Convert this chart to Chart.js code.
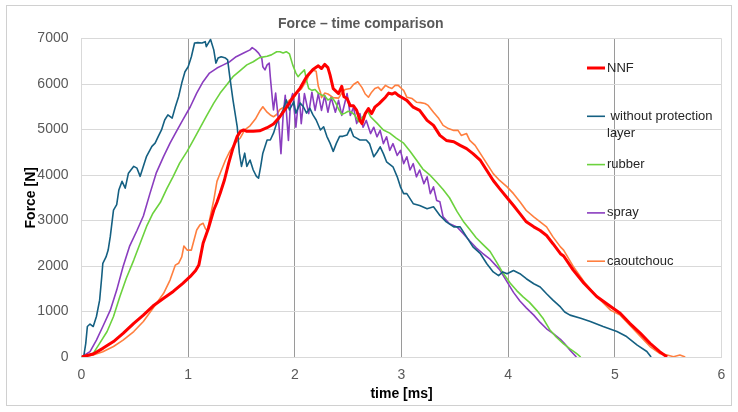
<!DOCTYPE html>
<html>
<head>
<meta charset="utf-8">
<script src="https://cdn.jsdelivr.net/npm/chart.js@4.4.1/dist/chart.umd.min.js"></script>
<style>
html, body { margin: 0; padding: 0; background: #fff; }
#wrap { width: 738px; height: 412px; }
</style>
</head>
<body>
<div id="wrap"><canvas id="forceChart" width="738" height="412"></canvas></div>
<script>
// axis ticks
const timeTicks = [0, 1, 2, 3, 4, 5, 6]
const forceTicks = [0, 1000, 2000, 3000, 4000, 5000, 6000, 7000]

// NNF
const nnfT = [0, 0.11, 0.20, 0.30, 0.39, 0.49, 0.58, 0.67, 0.77, 0.86,
  0.95, 1.02, 1.07, 1.10, 1.14, 1.19, 1.24, 1.27, 1.30, 1.34,
  1.38, 1.42, 1.46, 1.49, 1.52, 1.55, 1.61, 1.67, 1.74, 1.80,
  1.86, 1.92, 1.99, 2.05, 2.11, 2.17, 2.22, 2.25, 2.28, 2.31,
  2.33, 2.36, 2.41, 2.44, 2.46, 2.49, 2.52, 2.55, 2.58, 2.61,
  2.63, 2.66, 2.69, 2.72, 2.75, 2.79, 2.82, 2.85, 2.88, 2.91,
  2.94, 2.97, 3.00, 3.05, 3.11, 3.17, 3.24, 3.30, 3.36, 3.42,
  3.49, 3.55, 3.61, 3.67, 3.74, 3.80, 3.86, 3.92, 3.99, 4.05,
  4.11, 4.17, 4.24, 4.30, 4.36, 4.42, 4.49, 4.52, 4.61, 4.71,
  4.83, 4.96, 5.05, 5.14, 5.24, 5.33, 5.42, 5.49]
const nnfF = [0, 66, 190, 340, 520, 740, 920, 1120, 1290, 1440,
  1620, 1770, 1900, 2020, 2500, 2830, 3230, 3400, 3600, 3890,
  4260, 4590, 4850, 4960, 4990, 4960, 4960, 4970, 5040, 5120,
  5280, 5480, 5730, 5910, 6160, 6320, 6400, 6340, 6430, 6360,
  6200, 5900, 5790, 5950, 5720, 5680, 5520, 5520, 5420, 5200,
  5130, 5350, 5460, 5350, 5490, 5570, 5640, 5710, 5800, 5780,
  5810, 5750, 5710, 5640, 5490, 5420, 5200, 5090, 4870, 4760,
  4730, 4650, 4580, 4470, 4320, 4100, 3880, 3700, 3500, 3330,
  3150, 2970, 2860, 2780, 2670, 2490, 2270, 2220, 1910, 1620,
  1330, 1110, 960, 740, 520, 300, 117, 0]

// without protection layer
const bareT = [0.02, 0.04, 0.055, 0.08, 0.11, 0.14, 0.17, 0.19, 0.20, 0.23,
  0.25, 0.27, 0.30, 0.33, 0.35, 0.38, 0.41, 0.44, 0.49, 0.52,
  0.55, 0.58, 0.61, 0.66, 0.69, 0.72, 0.75, 0.78, 0.81, 0.85,
  0.88, 0.91, 0.94, 0.97, 1.00, 1.03, 1.06, 1.09, 1.13, 1.16,
  1.17, 1.21, 1.24, 1.26, 1.28, 1.31, 1.35, 1.37, 1.39, 1.42,
  1.46, 1.48, 1.50, 1.53, 1.55, 1.58, 1.61, 1.64, 1.66, 1.68,
  1.70, 1.74, 1.77, 1.80, 1.83, 1.86, 1.89, 1.92, 1.95, 1.99,
  2.01, 2.05, 2.08, 2.11, 2.14, 2.17, 2.20, 2.24, 2.27, 2.30,
  2.33, 2.36, 2.39, 2.42, 2.45, 2.49, 2.52, 2.55, 2.58, 2.61,
  2.67, 2.70, 2.74, 2.77, 2.80, 2.83, 2.86, 2.92, 2.96, 2.99,
  3.02, 3.05, 3.11, 3.17, 3.24, 3.30, 3.36, 3.42, 3.49, 3.55,
  3.61, 3.67, 3.74, 3.80, 3.86, 3.91, 3.95, 3.99, 4.05, 4.11,
  4.17, 4.24, 4.30, 4.36, 4.42, 4.49, 4.53, 4.58, 4.68, 4.77,
  4.89, 5.02, 5.11, 5.21, 5.30, 5.34]
const bareF = [0, 300, 670, 725, 670, 890, 1250, 1770, 2060, 2200,
  2350, 2650, 3230, 3350, 3670, 3860, 3710, 4040, 4190, 4150,
  3970, 4190, 4410, 4630, 4700, 4850, 4990, 5210, 5320, 5250,
  5500, 5720, 6020, 6270, 6380, 6600, 6900, 6910, 6900, 6930,
  6820, 6980, 6750, 6460, 6570, 6600, 6570, 6530, 6160, 5650,
  5060, 4480, 4190, 4480, 4190, 4330, 4110, 3970, 3930, 4190,
  4480, 4770, 4770, 4920, 5140, 5290, 5430, 5650, 5430, 5610,
  5360, 5580, 5500, 5360, 5470, 5320, 5210, 4990, 5060, 4850,
  4700, 4520, 4700, 4850, 4850, 4880, 5030, 4850, 4810, 4770,
  4770, 4690, 4400, 4500, 4620, 4470, 4290, 4180, 3960, 3740,
  3590, 3590, 3370, 3330, 3260, 3300, 3110, 2970, 2860, 2860,
  2640, 2420, 2270, 2050, 1870, 1790, 1870, 1830, 1900, 1830,
  1720, 1610, 1540, 1390, 1250, 1100, 990, 920, 850, 780,
  670, 560, 450, 260, 120, 0]

// rubber
const rubberT = [0, 0.11, 0.17, 0.24, 0.30, 0.36, 0.42, 0.49, 0.55, 0.61,
  0.67, 0.74, 0.80, 0.86, 0.92, 0.99, 1.05, 1.11, 1.17, 1.24,
  1.30, 1.36, 1.42, 1.49, 1.55, 1.61, 1.67, 1.74, 1.78, 1.83,
  1.86, 1.89, 1.92, 1.95, 1.98, 2.01, 2.03, 2.06, 2.09, 2.11,
  2.13, 2.16, 2.19, 2.22, 2.25, 2.28, 2.31, 2.35, 2.38, 2.41,
  2.44, 2.47, 2.50, 2.53, 2.56, 2.60, 2.65, 2.68, 2.71, 2.77,
  2.83, 2.89, 2.95, 3.02, 3.08, 3.14, 3.20, 3.27, 3.33, 3.39,
  3.45, 3.52, 3.58, 3.64, 3.70, 3.76, 3.83, 3.89, 3.95, 4.02,
  4.08, 4.14, 4.20, 4.27, 4.33, 4.39, 4.45, 4.52, 4.58, 4.64,
  4.68]
const rubberF = [0, 80, 300, 560, 890, 1330, 1730, 2130, 2500, 2870,
  3160, 3400, 3700, 3970, 4260, 4520, 4770, 5030, 5290, 5580,
  5800, 5980, 6160, 6300, 6420, 6490, 6580, 6610, 6640, 6710,
  6710, 6680, 6710, 6660, 6420, 6240, 6160, 6240, 6310, 6080,
  5900, 5860, 5880, 5800, 5760, 5740, 5650, 5700, 5600, 5450,
  5330, 5360, 5400, 5380, 5320, 5170, 5320, 5420, 5280, 5140,
  4990, 4920, 4810, 4700, 4520, 4330, 4130, 3990, 3840, 3680,
  3500, 3200, 2980, 2800, 2620, 2480, 2320, 2090, 1850, 1620,
  1460, 1320, 1200, 1020, 840, 600, 440, 290, 180, 80,
  0]

// spray
const sprayT = [0, 0.08, 0.14, 0.20, 0.27, 0.33, 0.39, 0.45, 0.52, 0.58,
  0.64, 0.70, 0.77, 0.83, 0.89, 0.95, 1.02, 1.08, 1.14, 1.20,
  1.27, 1.33, 1.39, 1.45, 1.52, 1.58, 1.60, 1.63, 1.66, 1.69,
  1.70, 1.72, 1.74, 1.76, 1.77, 1.79, 1.80, 1.82, 1.85, 1.87,
  1.89, 1.91, 1.94, 1.96, 1.98, 2.01, 2.04, 2.06, 2.09, 2.13,
  2.16, 2.19, 2.22, 2.25, 2.28, 2.31, 2.34, 2.38, 2.41, 2.44,
  2.49, 2.52, 2.55, 2.58, 2.61, 2.64, 2.67, 2.71, 2.74, 2.77,
  2.80, 2.83, 2.86, 2.89, 2.92, 2.96, 2.99, 3.02, 3.05, 3.08,
  3.11, 3.14, 3.17, 3.21, 3.24, 3.27, 3.30, 3.33, 3.36, 3.39,
  3.45, 3.52, 3.58, 3.64, 3.70, 3.76, 3.83, 3.92, 3.99, 4.05,
  4.11, 4.17, 4.24, 4.30, 4.36, 4.42, 4.49, 4.53, 4.58, 4.64]
const sprayF = [0, 117, 370, 670, 1030, 1470, 1990, 2430, 2780, 3100,
  3580, 4040, 4410, 4700, 4960, 5210, 5500, 5800, 6050, 6240,
  6350, 6420, 6490, 6600, 6680, 6750, 6800, 6750, 6680, 6570,
  6380, 6310, 6420, 6460, 6160, 5650, 5430, 5800, 5130, 4470,
  5300, 5750, 4760, 5640, 5790, 5050, 5790, 5130, 5790, 5350,
  5820, 5420, 5790, 5420, 5750, 5380, 5710, 5380, 5640, 5310,
  5790, 5310, 5490, 5130, 5350, 5050, 5200, 4910, 5050, 4840,
  4980, 4690, 4840, 4540, 4690, 4430, 4540, 4250, 4400, 4110,
  4250, 3960, 4110, 3810, 3960, 3590, 3740, 3440, 3410, 3080,
  2930, 2860, 2710, 2550, 2400, 2280, 2150, 1920, 1650, 1420,
  1230, 1080, 920, 760, 620, 520, 390, 290, 150, 0]

// caoutchouc
const cautT = [0, 0.11, 0.20, 0.30, 0.39, 0.49, 0.58, 0.67, 0.77, 0.83,
  0.88, 0.91, 0.94, 0.96, 0.99, 1.03, 1.08, 1.11, 1.14, 1.16,
  1.18, 1.20, 1.24, 1.27, 1.30, 1.35, 1.39, 1.44, 1.49, 1.53,
  1.58, 1.63, 1.67, 1.70, 1.74, 1.77, 1.80, 1.83, 1.86, 1.89,
  1.92, 1.95, 1.99, 2.02, 2.06, 2.11, 2.14, 2.17, 2.20, 2.22,
  2.24, 2.25, 2.28, 2.31, 2.36, 2.41, 2.44, 2.47, 2.52, 2.55,
  2.59, 2.63, 2.66, 2.69, 2.72, 2.75, 2.78, 2.81, 2.85, 2.88,
  2.91, 2.94, 2.97, 3.00, 3.02, 3.05, 3.10, 3.14, 3.18, 3.22,
  3.25, 3.30, 3.35, 3.39, 3.44, 3.49, 3.53, 3.56, 3.61, 3.64,
  3.69, 3.74, 3.80, 3.86, 3.92, 3.99, 4.05, 4.11, 4.17, 4.24,
  4.30, 4.36, 4.42, 4.49, 4.52, 4.61, 4.71, 4.83, 4.96, 5.05,
  5.14, 5.24, 5.33, 5.42, 5.49, 5.55, 5.61, 5.66]
const cautF = [0, 44, 117, 230, 370, 560, 780, 1070, 1400, 1690,
  2020, 2060, 2200, 2440, 2350, 2350, 2790, 2900, 2940, 2830,
  2760, 3010, 3450, 3860, 4040, 4330, 4520, 4700, 4820, 4990,
  5080, 5230, 5400, 5500, 5380, 5320, 5280, 5330, 5440, 5480,
  5560, 5650, 5700, 5810, 5890, 6080, 6240, 6300, 6280, 5950,
  5820, 5700, 5800, 5780, 5700, 5690, 5800, 5880, 5900, 5990,
  6050, 5920, 5780, 5710, 5820, 5900, 5930, 5860, 5970, 5930,
  5900, 5970, 5970, 5900, 5860, 5710, 5680, 5600, 5590, 5570,
  5530, 5380, 5240, 5090, 5020, 4980, 4980, 4870, 4910, 4760,
  4650, 4470, 4250, 4030, 3880, 3740, 3590, 3410, 3220, 3080,
  2970, 2860, 2640, 2420, 2350, 1990, 1660, 1330, 1030, 920,
  700, 450, 230, 80, 44, 7, 44, 0]

function to_points(ts, fs) {
  return ts.map((t, i) => ({ x: t, y: fs[i] }))
}

Chart.defaults.font.family = '"Liberation Sans", Arial, sans-serif'

// grey frame round the whole chart
const frame = {
  id: 'frame',
  beforeDraw(chart) {
    const ctx = chart.ctx
    ctx.save()
    ctx.fillStyle = '#ffffff'
    ctx.fillRect(0, 0, chart.width, chart.height)
    ctx.strokeStyle = '#D0D0D0'
    ctx.lineWidth = 1
    ctx.strokeRect(6.5, 5.5, 725, 400)
    ctx.restore()
  }
}

// legend drawn inside the plot, on the right
const sideLegend = {
  id: 'sideLegend',
  afterDraw(chart) {
    const ctx = chart.ctx
    const area = chart.chartArea
    const x0 = area.right - 134.5
    let y = area.top + 29.5
    ctx.save()
    ctx.font = '13px "Liberation Sans", Arial, sans-serif'
    ctx.fillStyle = '#262626'
    ctx.textBaseline = 'middle'
    chart.data.datasets.forEach(ds => {
      ctx.strokeStyle = ds.borderColor
      ctx.lineWidth = ds.borderWidth
      ctx.beginPath()
      ctx.moveTo(x0, y)
      ctx.lineTo(x0 + 18, y)
      ctx.stroke()
      ds.legendLines.forEach((ln, i) => ctx.fillText(ln, x0 + 20, y + i * 17))
      y += 48.3
    })
    ctx.restore()
  }
}

const ctx = document.getElementById('forceChart').getContext('2d')
const myChart = new Chart(ctx, {
  type: 'line',
  data: {
    datasets: [{
      label: 'NNF',
      legendLines: ['NNF'],
      data: to_points(nnfT, nnfF),
      borderColor: '#FF0000',
      borderWidth: 3
    }, {
      label: 'without protection layer',
      legendLines: [' without protection', 'layer'],
      data: to_points(bareT, bareF),
      borderColor: '#156082',
      borderWidth: 1.6
    }, {
      label: 'rubber',
      legendLines: ['rubber'],
      data: to_points(rubberT, rubberF),
      borderColor: '#6CD23E',
      borderWidth: 1.6
    }, {
      label: 'spray',
      legendLines: ['spray'],
      data: to_points(sprayT, sprayF),
      borderColor: '#8A3DBF',
      borderWidth: 1.6
    }, {
      label: 'caoutchouc',
      legendLines: ['caoutchouc'],
      data: to_points(cautT, cautF),
      borderColor: '#FF7F3F',
      borderWidth: 1.6
    }]
  },
  options: {
    responsive: false,
    animation: false,
    layout: { padding: { left: 0, right: 16.5, top: 0, bottom: 0 } },
    elements: {
      point: { radius: 0, hoverRadius: 0 },
      line: { tension: 0, fill: false, borderJoinStyle: 'round' }
    },
    plugins: {
      legend: { display: false },
      tooltip: { enabled: false },
      title: {
        display: true,
        text: 'Force \u2013 time comparison',
        color: '#595959',
        font: { size: 14, weight: 'bold' },
        padding: { top: 15.5, bottom: 6.2 }
      }
    },
    scales: {
      x: {
        type: 'linear',
        min: timeTicks[0],
        max: timeTicks[timeTicks.length - 1],
        afterBuildTicks: scale => { scale.ticks = timeTicks.map(v => ({ value: v })) },
        afterFit: scale => { scale.height = 55 },
        ticks: { color: '#595959', font: { size: 14 }, padding: 10, callback: v => String(v) },
        grid: {
          drawTicks: false,
          color: c => (c.tick && (c.tick.value === 0 || c.tick.value === 6)) ? '#D9D9D9' : '#9A9A9A'
        },
        border: { color: '#D9D9D9' },
        title: {
          display: true,
          text: 'time [ms]',
          color: '#000000',
          font: { size: 14, weight: 'bold' },
          padding: { top: 0, bottom: 9.6 }
        }
      },
      y: {
        min: forceTicks[0],
        max: forceTicks[forceTicks.length - 1],
        afterBuildTicks: scale => { scale.ticks = forceTicks.map(v => ({ value: v })) },
        afterFit: scale => { scale.width = 81.5 },
        ticks: { color: '#595959', font: { size: 14 }, padding: 13, callback: v => String(v) },
        grid: { drawTicks: false, color: '#D9D9D9' },
        border: { color: '#D9D9D9' },
        title: {
          display: true,
          text: 'Force [N]',
          color: '#000000',
          font: { size: 14, weight: 'bold' },
          padding: { top: 23, bottom: 0 }
        }
      }
    }
  },
  plugins: [frame, sideLegend]
})
</script>
</body>
</html>
